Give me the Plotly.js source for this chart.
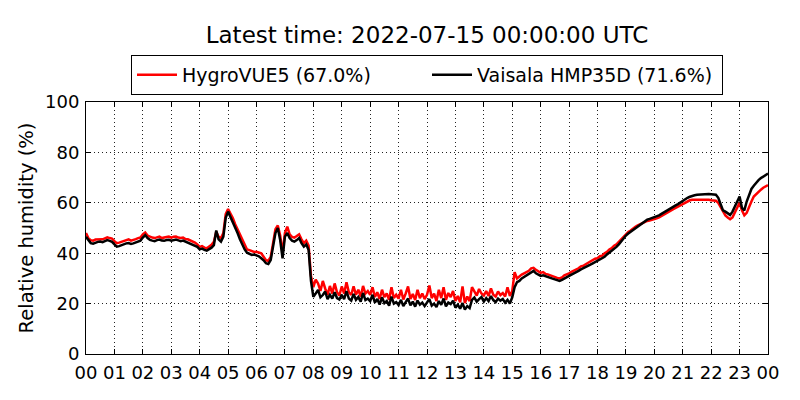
<!DOCTYPE html>
<html>
<head>
<meta charset="utf-8">
<script src="https://cdn.plot.ly/plotly-3.0.1.min.js"></script>
<style>
  html, body { margin: 0; padding: 0; background: #fff; }
  #chart { width: 800px; height: 400px; }
</style>
</head>
<body>
<div id="chart"></div>
<script>
// sampled every 5 minutes from 2022-07-14 00:00 to 2022-07-15 00:00 UTC (one row per hour)
const hourLabels = ['00','01','02','03','04','05','06','07','08','09','10','11',
  '12','13','14','15','16','17','18','19','20','21','22','23','00'];

const hygrovue = [
  48.0, 46.0, 45.2, 45.0, 45.4, 45.5, 45.6, 45.5, 45.9, 46.3, 46.0, 45.8,
  44.8, 44.0, 44.2, 44.6, 45.0, 45.2, 45.5, 45.0, 45.2, 45.6, 46.0, 46.2,
  47.5, 48.2, 47.0, 46.5, 46.2, 46.0, 46.4, 46.6, 46.0, 46.1, 46.4, 46.6,
  46.2, 46.5, 46.6, 46.2, 46.0, 46.2, 45.6, 45.5, 45.1, 44.6, 44.2, 43.5,
  42.5, 42.8, 42.2, 42.0, 42.6, 43.3, 44.5, 48.5, 46.5, 46.0, 48.0, 55.5,
  57.5, 56.0, 54.0, 51.5, 49.5, 47.0, 45.0, 43.0, 41.5, 41.2, 40.8, 40.5,
  40.6, 40.2, 40.0, 38.6, 37.2, 37.0, 38.5, 44.0, 49.5, 51.0, 47.0, 40.0,
  48.0, 50.5, 47.5, 46.5, 46.2, 46.8, 47.5, 45.5, 44.0, 45.0, 43.0, 31.0,
  26.5, 29.5, 28.0, 25.0, 29.0, 26.0, 23.5, 27.0, 24.0, 28.0, 24.5, 23.2,
  26.8, 24.0, 28.5, 24.5, 23.5, 26.8, 23.5, 25.5, 22.8, 27.0, 24.0, 25.0,
  23.5, 26.5, 22.6, 24.5, 21.8, 25.5, 22.6, 24.0, 21.5, 26.5, 22.2, 23.5,
  22.0, 25.5, 21.6, 24.0, 26.8, 21.8, 23.8, 21.4, 25.5, 22.2, 24.0, 21.8,
  23.5, 27.2, 22.2, 24.0, 21.0, 25.5, 22.2, 26.5, 21.5, 24.2, 22.6, 25.0,
  21.0, 23.0, 20.5, 26.8, 20.2, 22.8, 21.0, 26.5, 24.5, 23.2, 25.8, 24.0,
  23.2, 25.0, 23.0, 26.0, 23.5, 22.8, 24.8, 23.4, 24.2, 22.8, 26.5, 23.0,
  25.0, 32.5, 30.0, 30.8, 31.5, 32.0, 32.4, 33.0, 34.0, 34.2, 33.4, 32.8,
  32.2, 32.5, 31.8, 31.6, 31.2, 31.0, 30.6, 30.2, 30.0, 30.4, 31.2, 31.5,
  32.0, 32.6, 33.0, 33.6, 34.0, 34.8, 35.0, 35.6, 36.2, 36.6, 37.2, 37.8,
  38.0, 38.8, 39.0, 40.0, 40.5, 41.5, 42.0, 43.0, 43.5, 44.5, 45.5, 46.8,
  47.5, 48.4, 49.0, 49.8, 50.5, 51.0, 51.5, 52.0, 52.5, 52.8, 53.0, 53.2,
  53.5, 53.8, 54.2, 54.8, 55.2, 55.8, 56.5, 57.0, 57.5, 58.0, 58.5, 59.2,
  59.8, 60.2, 60.8, 61.0, 61.2, 61.2, 61.3, 61.2, 61.2, 61.3, 61.2, 61.2,
  61.0, 61.0, 60.8, 60.0, 58.5, 56.5, 55.0, 54.2, 53.5, 54.2, 56.0, 58.0,
  60.0, 57.0, 55.0, 56.0, 58.5, 60.5, 62.5, 63.5, 64.5, 65.2, 66.0, 66.5,
  67.0
];

const hmp35d = [
  46.5, 45.0, 44.0, 43.8, 44.2, 44.5, 44.6, 44.4, 44.8, 45.2, 44.9, 44.5,
  43.5, 42.6, 42.8, 43.2, 43.6, 43.9, 44.0, 43.7, 43.9, 44.2, 44.5, 45.0,
  46.2, 47.2, 46.0, 45.3, 45.0, 44.8, 45.2, 45.4, 45.0, 44.9, 45.2, 45.3,
  45.0, 45.3, 45.4, 45.1, 44.8, 45.0, 44.6, 44.3, 44.0, 43.6, 43.2, 42.5,
  41.5, 41.8, 41.3, 41.0, 41.6, 42.2, 43.2, 49.0, 45.5, 44.6, 46.6, 54.0,
  56.5, 54.5, 52.0, 50.0, 48.0, 45.5, 43.3, 41.5, 40.2, 39.8, 39.3, 39.5,
  39.2, 38.8, 38.0, 37.2, 36.0, 35.7, 37.3, 42.0, 48.0, 50.0, 45.2, 38.0,
  46.6, 48.0, 46.0, 45.0, 44.6, 45.2, 46.0, 44.0, 42.6, 43.5, 41.3, 29.0,
  22.7, 24.0, 25.4, 22.5, 23.4, 24.8, 21.8, 23.5, 22.0, 24.5, 22.2, 21.6,
  23.5, 21.8, 25.0, 22.0, 21.2, 23.8, 21.5, 22.6, 20.8, 24.2, 21.4, 22.0,
  21.0, 23.5, 20.4, 21.8, 19.6, 22.5, 20.2, 21.0, 19.2, 22.8, 20.0, 20.6,
  19.4, 21.5, 19.0, 20.6, 22.0, 19.3, 20.8, 18.8, 21.2, 19.6, 20.4, 19.0,
  20.5, 21.8, 19.2, 20.0, 18.6, 21.0, 19.5, 22.0, 18.9, 20.4, 19.8, 21.2,
  18.4, 19.6, 18.0, 20.2, 17.6, 19.0, 18.2, 21.5, 22.4, 20.8, 21.8, 22.6,
  20.8, 22.2, 21.0, 23.0, 21.4, 20.6, 22.0, 21.2, 21.8, 20.4, 21.5, 20.0,
  22.5, 26.5, 28.5, 29.0, 30.0, 30.6, 31.0, 31.6, 32.5, 33.0, 32.0, 31.5,
  31.0, 31.2, 30.8, 30.5, 30.2, 29.9, 29.6, 29.3, 29.0, 29.4, 30.0, 30.4,
  31.0, 31.5, 32.0, 32.4, 33.0, 33.6, 34.0, 34.4, 35.0, 35.5, 36.0, 36.5,
  37.0, 37.4, 38.0, 38.6, 39.5, 40.2, 41.0, 41.8, 42.5, 43.5, 44.8, 46.0,
  47.0, 47.8, 48.5, 49.2, 50.0, 50.8, 51.5, 52.2, 52.8, 53.3, 53.6, 53.9,
  54.2, 54.5, 55.0, 55.6, 56.2, 56.9, 57.5, 58.0, 58.5, 59.0, 59.5, 60.2,
  60.8, 61.4, 62.0, 62.4, 62.8, 63.0, 63.2, 63.3, 63.4, 63.4, 63.5, 63.5,
  63.4, 63.4, 63.2, 62.0, 59.5, 57.0, 56.5, 55.8, 55.2, 56.5, 58.5, 61.0,
  62.5, 58.0, 57.0, 60.5, 63.5, 65.5, 66.8, 68.0, 69.0, 69.8, 70.5, 71.0,
  71.6
];

const hours = hmp35d.map((_, i) => i / 12);
const fontFamily = 'DejaVu Sans, sans-serif';

const traces = [
  {
    type: 'scatter', mode: 'lines', name: 'HygroVUE5 (67.0%)',
    x: hours, y: hygrovue,
    line: { color: '#ff0000', width: 2.5 },
  },
  {
    type: 'scatter', mode: 'lines', name: 'Vaisala HMP35D (71.6%)',
    x: hours, y: hmp35d,
    line: { color: '#000000', width: 2.5 },
  },
];

const axisBase = {
  showline: true, linecolor: '#000', linewidth: 1, mirror: 'allticks',
  ticks: 'inside', ticklen: 5, tickcolor: '#000', tickwidth: 1,
  showgrid: true, gridcolor: '#222', gridwidth: 1, griddash: '1px,3px',
  zeroline: false, fixedrange: true,
  tickfont: { family: fontFamily, size: 18, color: '#000' },
};

const layout = {
  width: 800, height: 400,
  margin: { l: 86, r: 32, t: 102, b: 46 },
  paper_bgcolor: '#fff', plot_bgcolor: '#fff',
  font: { family: fontFamily, color: '#000' },
  title: {
    text: 'Latest time: 2022-07-15 00:00:00 UTC',
    font: { family: fontFamily, size: 23, color: '#000' },
    x: 0.5, xref: 'paper', xanchor: 'center',
    y: 1 - 35 / 400, yref: 'container', yanchor: 'middle',
  },
  xaxis: {
    ...axisBase,
    range: [0, 24],
    tickvals: hourLabels.map((_, i) => i),
    ticktext: hourLabels,
    ticklabelstandoff: 2,
  },
  yaxis: {
    ...axisBase,
    range: [0, 100],
    tickvals: [0, 20, 40, 60, 80, 100],
    ticklabelstandoff: 2,
    title: { text: 'Relative humidity (%)', font: { family: fontFamily, size: 19.5, color: '#000' }, standoff: 6 },
  },
  showlegend: true,
  legend: {
    orientation: 'h',
    x: 0.5, xanchor: 'center',
    y: 1 + 47 / 252, yanchor: 'top',
    bordercolor: '#000', borderwidth: 1, bgcolor: '#fff',
    font: { family: fontFamily, size: 19, color: '#000' },
    itemwidth: 40,
    entrywidth: 240,
  },
};

Plotly.newPlot('chart', traces, layout, { displayModeBar: false, staticPlot: true });
</script>
</body>
</html>
